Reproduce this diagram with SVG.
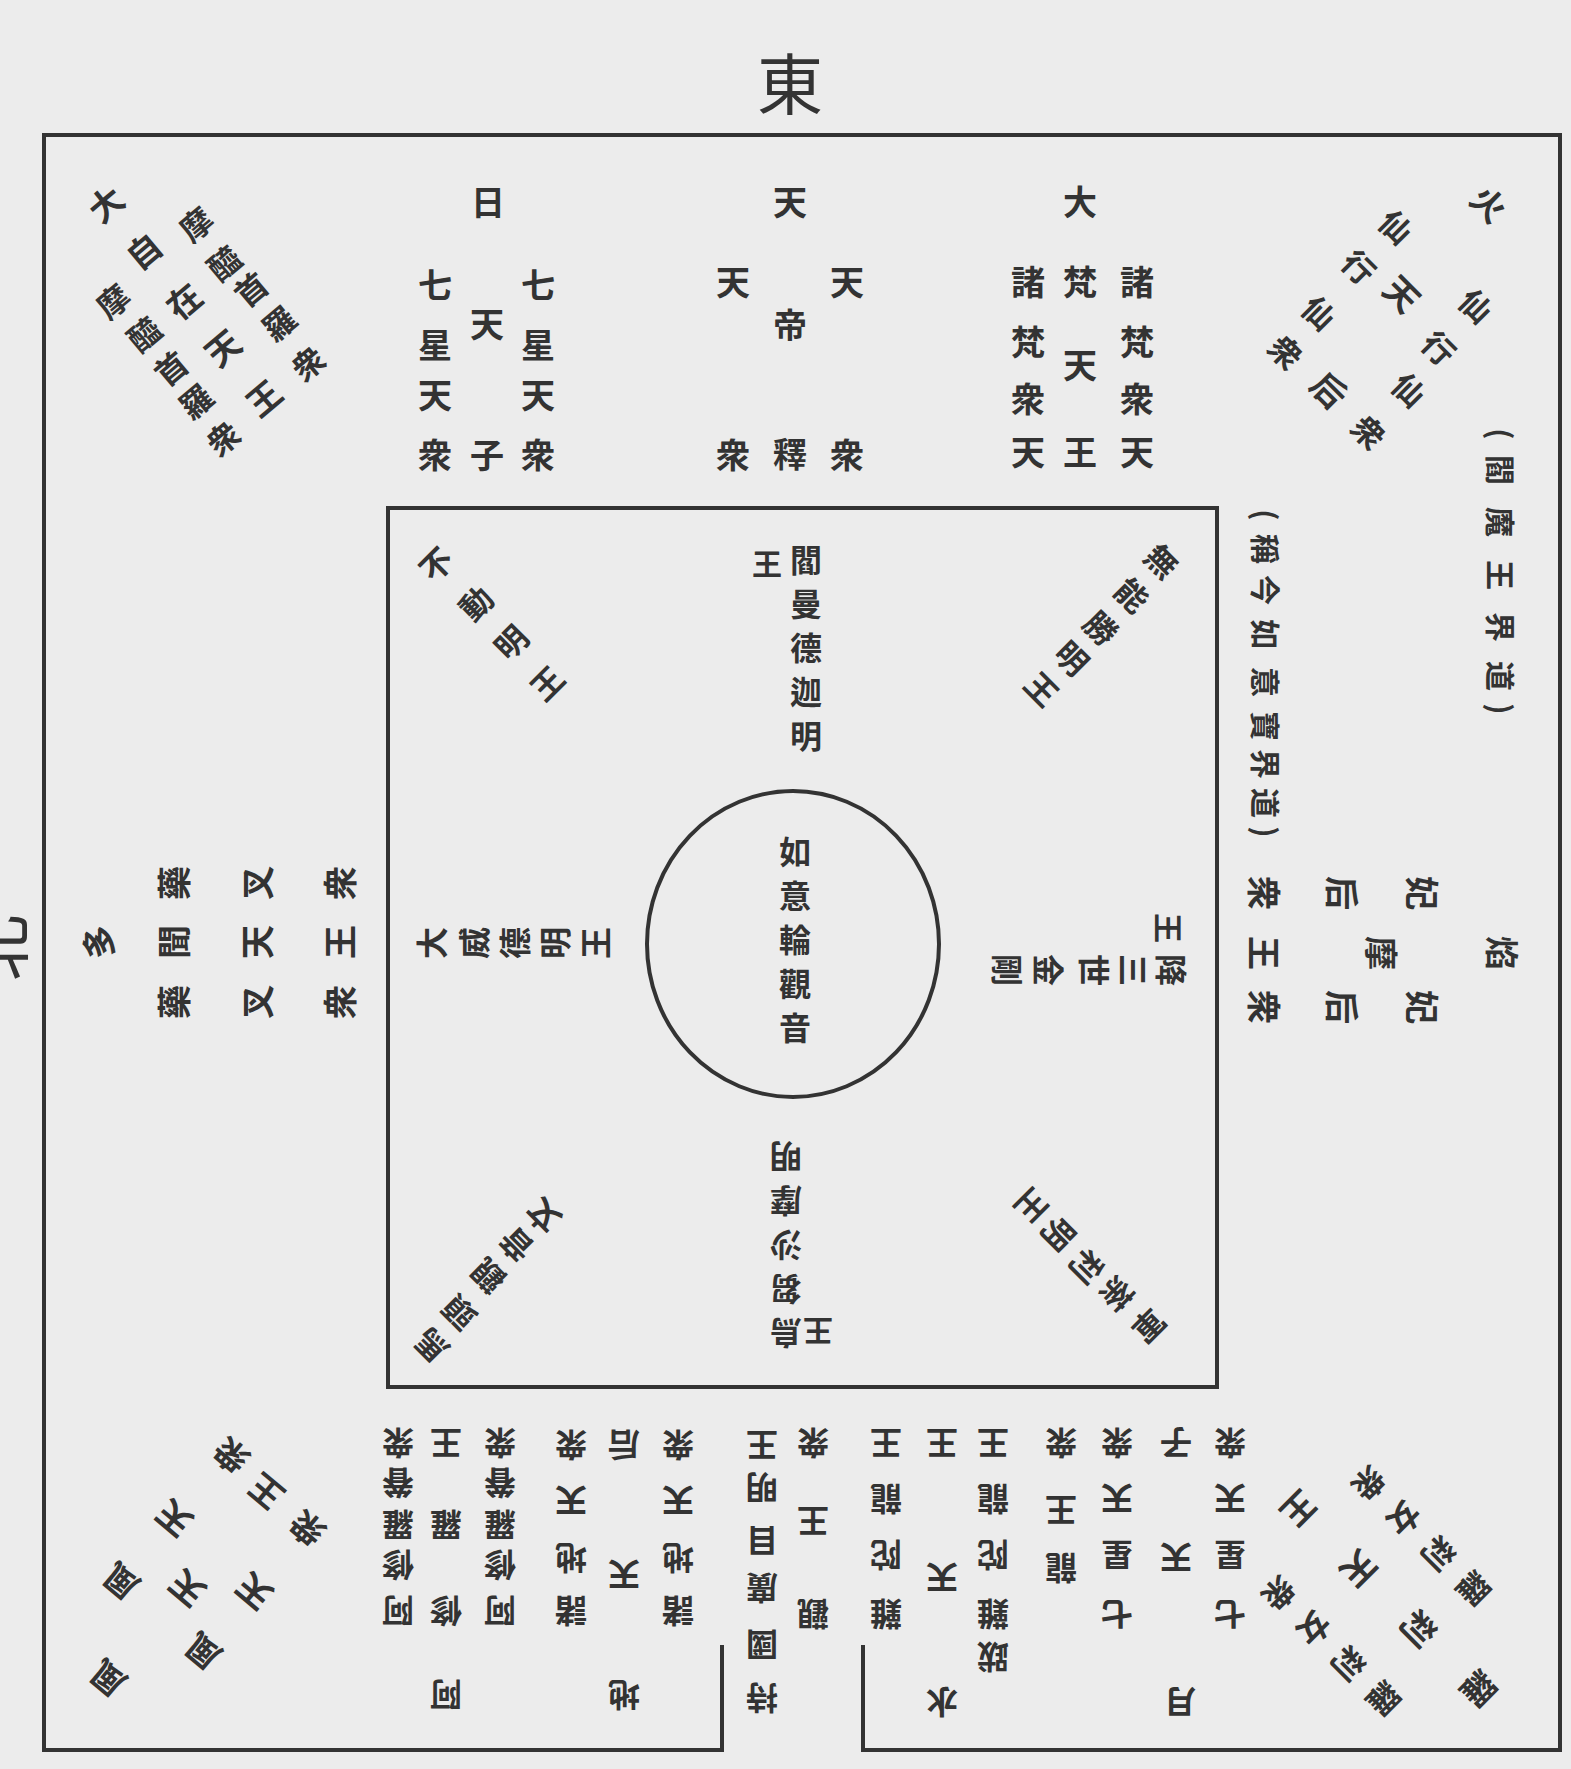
<svg xmlns="http://www.w3.org/2000/svg" width="1571" height="1769" viewBox="0 0 1571 1769">
<style>
.c{font-family:"Noto Sans CJK JP","Noto Sans CJK TC",sans-serif;font-weight:700;fill:#333;text-anchor:middle;dominant-baseline:central;font-size:34px}
.s{font-size:30px}
.b{font-size:32px}
.ln{fill:none;stroke:#333;stroke-width:4}
.dir{font-family:"Noto Sans CJK JP",sans-serif;font-weight:400;fill:#333;text-anchor:middle;dominant-baseline:central;font-size:66px}
</style>
<rect width="1571" height="1769" fill="#ececec"/>
<g id="frame">
<path class="ln" d="M722,1645 V1750 H44 V135 H1560 V1750 H863 V1645" stroke-width="5"/>
<rect class="ln" x="388" y="508" width="829" height="879"/>
<ellipse class="ln" cx="793" cy="944" rx="146" ry="153" stroke-width="3"/>
</g>
<g id="connectors"></g>
<g id="dir-east"><text class="dir" x="790" y="80">東</text></g>
<g id="dir-north"><text class="dir" x="-6" y="948" transform="rotate(-90 -6 948)">北</text></g>

<g id="top-nittenshi">
<text class="c" x="488" y="200">日</text><text class="c" x="487" y="322">天</text><text class="c" x="487" y="453">子</text>
<text class="c" x="435" y="283">七</text><text class="c" x="435" y="343">星</text><text class="c" x="435" y="393">天</text><text class="c" x="435" y="453">衆</text>
<text class="c" x="538" y="283">七</text><text class="c" x="538" y="343">星</text><text class="c" x="538" y="393">天</text><text class="c" x="538" y="453">衆</text>
</g>
<g id="top-taishaku">
<text class="c" x="790" y="200">天</text><text class="c" x="790" y="323">帝</text><text class="c" x="790" y="452">釋</text>
<text class="c" x="733" y="280">天</text><text class="c" x="733" y="453">衆</text>
<text class="c" x="847" y="280">天</text><text class="c" x="847" y="453">衆</text>
</g>
<g id="top-bonten">
<text class="c" x="1080" y="200">大</text><text class="c" x="1080" y="280">梵</text><text class="c" x="1080" y="363">天</text><text class="c" x="1080" y="450">王</text>
<text class="c" x="1028" y="280">諸</text><text class="c" x="1028" y="340">梵</text><text class="c" x="1028" y="397">衆</text><text class="c" x="1028" y="450">天</text>
<text class="c" x="1137" y="280">諸</text><text class="c" x="1137" y="340">梵</text><text class="c" x="1137" y="397">衆</text><text class="c" x="1137" y="450">天</text>
</g>

<g id="corner-ne">
<text class="c" x="105" y="203" transform="rotate(-40 105 203)">大</text>
<text class="c" x="143" y="250" transform="rotate(-40 143 250)">自</text>
<text class="c" x="183" y="300" transform="rotate(-40 183 300)">在</text>
<text class="c" x="222" y="347" transform="rotate(-40 222 347)">天</text>
<text class="c" x="263" y="397" transform="rotate(-40 263 397)">王</text>
<text class="c b" x="195" y="223" transform="rotate(-40 195 223)">摩</text>
<text class="c b" x="223" y="262" transform="rotate(-40 223 262)">醯</text>
<text class="c b" x="250" y="288" transform="rotate(-40 250 288)">首</text>
<text class="c b" x="278" y="322" transform="rotate(-40 278 322)">羅</text>
<text class="c b" x="307" y="362" transform="rotate(-40 307 362)">衆</text>
<text class="c b" x="112" y="300" transform="rotate(-40 112 300)">摩</text>
<text class="c b" x="143" y="333" transform="rotate(-40 143 333)">醯</text>
<text class="c b" x="170" y="367" transform="rotate(-40 170 367)">首</text>
<text class="c b" x="195" y="400" transform="rotate(-40 195 400)">羅</text>
<text class="c b" x="222" y="437" transform="rotate(-40 222 437)">衆</text>
</g>

<g id="corner-se">
<text class="c" x="1490" y="203" transform="rotate(45 1490 203)">火</text>
<text class="c" x="1403" y="293" transform="rotate(45 1403 293)">天</text>
<text class="c" x="1330" y="389" transform="rotate(45 1330 389)">后</text>
<text class="c b" x="1397" y="226" transform="rotate(45 1397 226)">仙</text>
<text class="c b" x="1360" y="266" transform="rotate(45 1360 266)">行</text>
<text class="c b" x="1320" y="312" transform="rotate(45 1320 312)">仙</text>
<text class="c b" x="1287" y="351" transform="rotate(45 1287 351)">衆</text>
<text class="c b" x="1477" y="305" transform="rotate(45 1477 305)">仙</text>
<text class="c b" x="1440" y="347" transform="rotate(45 1440 347)">行</text>
<text class="c b" x="1410" y="389" transform="rotate(45 1410 389)">仙</text>
<text class="c b" x="1370" y="431" transform="rotate(45 1370 431)">衆</text>
</g>

<g id="south-note-outer">
<text class="c s" x="1502" y="434" transform="rotate(90 1502 434)">(</text>
<text class="c s" x="1502" y="470" transform="rotate(90 1502 470)">閻</text>
<text class="c s" x="1502" y="522" transform="rotate(90 1502 522)">魔</text>
<text class="c s" x="1502" y="575" transform="rotate(90 1502 575)">王</text>
<text class="c s" x="1502" y="627" transform="rotate(90 1502 627)">界</text>
<text class="c s" x="1502" y="676" transform="rotate(90 1502 676)">道</text>
<text class="c s" x="1502" y="709" transform="rotate(90 1502 709)">)</text>
</g>
<g id="south-note-inner">
<text class="c s" x="1267" y="515" transform="rotate(90 1267 515)">(</text>
<text class="c s" x="1267" y="549" transform="rotate(90 1267 549)">稱</text>
<text class="c s" x="1267" y="590" transform="rotate(90 1267 590)">今</text>
<text class="c s" x="1267" y="634" transform="rotate(90 1267 634)">如</text>
<text class="c s" x="1267" y="682" transform="rotate(90 1267 682)">意</text>
<text class="c s" x="1267" y="726" transform="rotate(90 1267 726)">寶</text>
<text class="c s" x="1267" y="764" transform="rotate(90 1267 764)">界</text>
<text class="c s" x="1267" y="803" transform="rotate(90 1267 803)">道</text>
<text class="c s" x="1267" y="832" transform="rotate(90 1267 832)">)</text>
</g>
<g id="south-emma">
<text class="c" x="1503" y="953" transform="rotate(90 1503 953)">焰</text>
<text class="c" x="1382" y="953" transform="rotate(90 1382 953)">摩</text>
<text class="c" x="1265" y="953" transform="rotate(90 1265 953)">王</text>
<text class="c" x="1423" y="893" transform="rotate(90 1423 893)">妃</text>
<text class="c" x="1343" y="893" transform="rotate(90 1343 893)">后</text>
<text class="c" x="1265" y="893" transform="rotate(90 1265 893)">衆</text>
<text class="c" x="1423" y="1007" transform="rotate(90 1423 1007)">妃</text>
<text class="c" x="1343" y="1007" transform="rotate(90 1343 1007)">后</text>
<text class="c" x="1265" y="1007" transform="rotate(90 1265 1007)">衆</text>
</g>

<g id="north-tamon">
<text class="c" x="97" y="942" transform="rotate(-90 97 942)">多</text>
<text class="c" x="172" y="942" transform="rotate(-90 172 942)">聞</text>
<text class="c" x="255" y="942" transform="rotate(-90 255 942)">天</text>
<text class="c" x="338" y="942" transform="rotate(-90 338 942)">王</text>
<text class="c" x="172" y="883" transform="rotate(-90 172 883)">藥</text>
<text class="c" x="255" y="883" transform="rotate(-90 255 883)">叉</text>
<text class="c" x="338" y="883" transform="rotate(-90 338 883)">衆</text>
<text class="c" x="172" y="1002" transform="rotate(-90 172 1002)">藥</text>
<text class="c" x="255" y="1002" transform="rotate(-90 255 1002)">叉</text>
<text class="c" x="338" y="1002" transform="rotate(-90 338 1002)">衆</text>
</g>

<g id="center">
<text class="c b" x="795" y="850">如</text><text class="c b" x="795" y="894">意</text><text class="c b" x="795" y="938">輪</text><text class="c b" x="795" y="982">觀</text><text class="c b" x="795" y="1026">音</text>
</g>
<g id="inner-east">
<text class="c b" x="806" y="558">閻</text><text class="c b" x="806" y="602">曼</text><text class="c b" x="806" y="646">德</text><text class="c b" x="806" y="690">迦</text><text class="c b" x="806" y="734">明</text>
<text class="c s" x="767" y="562">王</text>
</g>
<g id="inner-west">
<text class="c b" x="786" y="1335" transform="rotate(180 786 1335)">烏</text>
<text class="c b" x="786" y="1291" transform="rotate(180 786 1291)">芻</text>
<text class="c b" x="786" y="1247" transform="rotate(180 786 1247)">沙</text>
<text class="c b" x="786" y="1203" transform="rotate(180 786 1203)">摩</text>
<text class="c b" x="786" y="1159" transform="rotate(180 786 1159)">明</text>
<text class="c s" x="818" y="1333" transform="rotate(180 818 1333)">王</text>
</g>
<g id="inner-north">
<text class="c b" x="430" y="943" transform="rotate(-90 430 943)">大</text>
<text class="c b" x="472" y="943" transform="rotate(-90 472 943)">威</text>
<text class="c b" x="513" y="943" transform="rotate(-90 513 943)">德</text>
<text class="c b" x="553" y="943" transform="rotate(-90 553 943)">明</text>
<text class="c b" x="594" y="943" transform="rotate(-90 594 943)">王</text>
</g>
<g id="inner-south">
<text class="c b" x="1173" y="970" transform="rotate(90 1173 970)">降</text>
<text class="c b" x="1135" y="970" transform="rotate(90 1135 970)">三</text>
<text class="c b" x="1096" y="970" transform="rotate(90 1096 970)">世</text>
<text class="c b" x="1050" y="970" transform="rotate(90 1050 970)">金</text>
<text class="c b" x="1009" y="970" transform="rotate(90 1009 970)">剛</text>
<text class="c s" x="1170" y="928" transform="rotate(90 1170 928)">王</text>
</g>
<g id="inner-ne">
<text class="c b" x="435" y="563" transform="rotate(-45 435 563)">不</text>
<text class="c b" x="475" y="602" transform="rotate(-45 475 602)">動</text>
<text class="c b" x="510" y="641" transform="rotate(-45 510 641)">明</text>
<text class="c b" x="546" y="682" transform="rotate(-45 546 682)">王</text>
</g>
<g id="inner-se">
<text class="c b" x="1163" y="560" transform="rotate(45 1163 560)">無</text>
<text class="c b" x="1133" y="594" transform="rotate(45 1133 594)">能</text>
<text class="c b" x="1102" y="627" transform="rotate(45 1102 627)">勝</text>
<text class="c b" x="1073" y="657" transform="rotate(45 1073 657)">明</text>
<text class="c b" x="1043" y="688" transform="rotate(45 1043 688)">王</text>
</g>
<g id="inner-nw">
<text class="c b" x="430" y="1347" transform="rotate(-135 430 1347)">馬</text>
<text class="c b" x="458" y="1314" transform="rotate(-135 458 1314)">頭</text>
<text class="c b" x="487" y="1277" transform="rotate(-135 487 1277)">觀</text>
<text class="c b" x="515" y="1246" transform="rotate(-135 515 1246)">音</text>
<text class="c b" x="542" y="1217" transform="rotate(-135 542 1217)">文</text>
</g>
<g id="inner-sw">
<text class="c b" x="1150" y="1327" transform="rotate(135 1150 1327)">軍</text>
<text class="c b" x="1118" y="1295" transform="rotate(135 1118 1295)">荼</text>
<text class="c b" x="1088" y="1268" transform="rotate(135 1088 1268)">利</text>
<text class="c b" x="1060" y="1235" transform="rotate(135 1060 1235)">明</text>
<text class="c b" x="1033" y="1207" transform="rotate(135 1033 1207)">王</text>
</g>

<g id="west-ashura">
<text class="c b" x="446" y="1697" transform="rotate(180 446 1697)">阿</text>
<text class="c b" x="446" y="1613" transform="rotate(180 446 1613)">修</text>
<text class="c b" x="446" y="1527" transform="rotate(180 446 1527)">羅</text>
<text class="c b" x="446" y="1445" transform="rotate(180 446 1445)">王</text>
<text class="c b" x="398" y="1613" transform="rotate(180 398 1613)">阿</text>
<text class="c b" x="398" y="1567" transform="rotate(180 398 1567)">修</text>
<text class="c b" x="398" y="1527" transform="rotate(180 398 1527)">羅</text>
<text class="c b" x="398" y="1485" transform="rotate(180 398 1485)">眷</text>
<text class="c b" x="398" y="1445" transform="rotate(180 398 1445)">衆</text>
<text class="c b" x="500" y="1613" transform="rotate(180 500 1613)">阿</text>
<text class="c b" x="500" y="1567" transform="rotate(180 500 1567)">修</text>
<text class="c b" x="500" y="1527" transform="rotate(180 500 1527)">羅</text>
<text class="c b" x="500" y="1485" transform="rotate(180 500 1485)">眷</text>
<text class="c b" x="500" y="1445" transform="rotate(180 500 1445)">衆</text>
</g>
<g id="west-chiten">
<text class="c b" x="624" y="1697" transform="rotate(180 624 1697)">地</text>
<text class="c b" x="624" y="1577" transform="rotate(180 624 1577)">天</text>
<text class="c b" x="624" y="1447" transform="rotate(180 624 1447)">后</text>
<text class="c b" x="571" y="1613" transform="rotate(180 571 1613)">諸</text>
<text class="c b" x="571" y="1560" transform="rotate(180 571 1560)">地</text>
<text class="c b" x="571" y="1503" transform="rotate(180 571 1503)">天</text>
<text class="c b" x="571" y="1447" transform="rotate(180 571 1447)">衆</text>
<text class="c b" x="678" y="1613" transform="rotate(180 678 1613)">諸</text>
<text class="c b" x="678" y="1560" transform="rotate(180 678 1560)">地</text>
<text class="c b" x="678" y="1503" transform="rotate(180 678 1503)">天</text>
<text class="c b" x="678" y="1447" transform="rotate(180 678 1447)">衆</text>
</g>
<g id="west-gate">
<text class="c b" x="762" y="1700" transform="rotate(180 762 1700)">持</text>
<text class="c b" x="762" y="1647" transform="rotate(180 762 1647)">國</text>
<text class="c b" x="762" y="1590" transform="rotate(180 762 1590)">廣</text>
<text class="c b" x="762" y="1543" transform="rotate(180 762 1543)">目</text>
<text class="c b" x="762" y="1490" transform="rotate(180 762 1490)">明</text>
<text class="c b" x="762" y="1447" transform="rotate(180 762 1447)">王</text>
<text class="c b" x="813" y="1616" transform="rotate(180 813 1616)">觀</text>
<text class="c b" x="813" y="1523" transform="rotate(180 813 1523)">王</text>
<text class="c b" x="813" y="1445" transform="rotate(180 813 1445)">衆</text>
</g>
<g id="west-suiten">
<text class="c b" x="942" y="1704" transform="rotate(180 942 1704)">水</text>
<text class="c b" x="942" y="1580" transform="rotate(180 942 1580)">天</text>
<text class="c b" x="942" y="1445" transform="rotate(180 942 1445)">王</text>
<text class="c b" x="886" y="1616" transform="rotate(180 886 1616)">難</text>
<text class="c b" x="886" y="1557" transform="rotate(180 886 1557)">陀</text>
<text class="c b" x="886" y="1501" transform="rotate(180 886 1501)">龍</text>
<text class="c b" x="886" y="1445" transform="rotate(180 886 1445)">王</text>
<text class="c b" x="993" y="1659" transform="rotate(180 993 1659)">跋</text>
<text class="c b" x="993" y="1616" transform="rotate(180 993 1616)">難</text>
<text class="c b" x="993" y="1557" transform="rotate(180 993 1557)">陀</text>
<text class="c b" x="993" y="1501" transform="rotate(180 993 1501)">龍</text>
<text class="c b" x="993" y="1445" transform="rotate(180 993 1445)">王</text>
<text class="c b" x="1061" y="1570" transform="rotate(180 1061 1570)">龍</text>
<text class="c b" x="1061" y="1512" transform="rotate(180 1061 1512)">王</text>
<text class="c b" x="1061" y="1445" transform="rotate(180 1061 1445)">衆</text>
</g>
<g id="west-gatten">
<text class="c b" x="1180" y="1704" transform="rotate(180 1180 1704)">月</text>
<text class="c b" x="1176" y="1560" transform="rotate(180 1176 1560)">天</text>
<text class="c b" x="1176" y="1445" transform="rotate(180 1176 1445)">子</text>
<text class="c b" x="1117" y="1616" transform="rotate(180 1117 1616)">七</text>
<text class="c b" x="1117" y="1557" transform="rotate(180 1117 1557)">星</text>
<text class="c b" x="1117" y="1501" transform="rotate(180 1117 1501)">天</text>
<text class="c b" x="1117" y="1445" transform="rotate(180 1117 1445)">衆</text>
<text class="c b" x="1230" y="1616" transform="rotate(180 1230 1616)">七</text>
<text class="c b" x="1230" y="1557" transform="rotate(180 1230 1557)">星</text>
<text class="c b" x="1230" y="1501" transform="rotate(180 1230 1501)">天</text>
<text class="c b" x="1230" y="1445" transform="rotate(180 1230 1445)">衆</text>
</g>

<g id="corner-nw">
<text class="c" x="107" y="1680" transform="rotate(-140 107 1680)">風</text>
<text class="c" x="186" y="1590" transform="rotate(-140 186 1590)">天</text>
<text class="c" x="265" y="1493" transform="rotate(-140 265 1493)">王</text>
<text class="c" x="120" y="1583" transform="rotate(-140 120 1583)">風</text>
<text class="c" x="173" y="1520" transform="rotate(-140 173 1520)">天</text>
<text class="c" x="230" y="1457" transform="rotate(-140 230 1457)">衆</text>
<text class="c" x="202" y="1653" transform="rotate(-140 202 1653)">風</text>
<text class="c" x="253" y="1593" transform="rotate(-140 253 1593)">天</text>
<text class="c" x="306" y="1530" transform="rotate(-140 306 1530)">衆</text>
</g>

<g id="corner-sw">
<text class="c" x="1480" y="1690" transform="rotate(135 1480 1690)">羅</text>
<text class="c" x="1420" y="1630" transform="rotate(135 1420 1630)">刹</text>
<text class="c" x="1360" y="1570" transform="rotate(135 1360 1570)">天</text>
<text class="c" x="1300" y="1510" transform="rotate(135 1300 1510)">王</text>
<text class="c b" x="1475" y="1590" transform="rotate(135 1475 1590)">羅</text>
<text class="c b" x="1440" y="1555" transform="rotate(135 1440 1555)">刹</text>
<text class="c b" x="1405" y="1520" transform="rotate(135 1405 1520)">女</text>
<text class="c b" x="1370" y="1485" transform="rotate(135 1370 1485)">衆</text>
<text class="c b" x="1385" y="1700" transform="rotate(135 1385 1700)">羅</text>
<text class="c b" x="1350" y="1665" transform="rotate(135 1350 1665)">刹</text>
<text class="c b" x="1315" y="1630" transform="rotate(135 1315 1630)">女</text>
<text class="c b" x="1280" y="1595" transform="rotate(135 1280 1595)">衆</text>
</g>
</svg>
